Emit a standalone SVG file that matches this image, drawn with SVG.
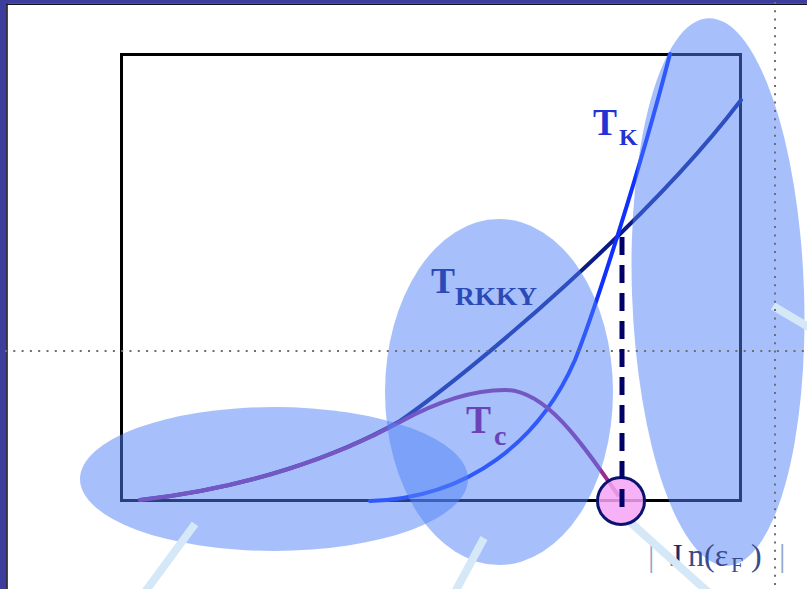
<svg xmlns="http://www.w3.org/2000/svg" width="807" height="589" viewBox="0 0 807 589">
  <style>
    .blob { fill: #4f81f7; fill-opacity: 0.5; }
    .curve { fill: none; stroke-width: 4; stroke-linecap: round; }
    .pale { stroke: #d4e8f8; stroke-width: 8; fill: none; }
    .dots { stroke: #6e6e6e; stroke-width: 2; stroke-dasharray: 2 6.3; fill: none; }
    .lbl { font-family: "Liberation Serif", "Times New Roman", serif; font-weight: bold; }
    .ax { font-family: "Liberation Serif", "Times New Roman", serif; }
  </style>
  <rect width="807" height="589" fill="#ffffff"/>
  <g id="frame">
    <rect x="0" y="0" width="6.5" height="589" fill="#3d3d9d"/>
    <rect x="0" y="0" width="807" height="3.5" fill="#3d3d9d"/>
    <line x1="7" y1="3.5" x2="7" y2="589" stroke="#111" stroke-width="1.5"/>
    <line x1="6.5" y1="4.3" x2="807" y2="4.3" stroke="#111" stroke-width="1.5"/>
  </g>
  <g id="plot-box">
    <rect x="121.5" y="54.5" width="619" height="446" fill="none" stroke="#000" stroke-width="3"/>
  </g>
  <g id="curves">
    <path id="T_RKKY-curve" class="curve" stroke="#0c1c86" d="M140,500 C250,488 340,455 400,421 C480,365 650,220 741,100"/>
    <path id="T_K-curve" class="curve" stroke="#1030ff" d="M370,501 C470,498 540,440 575,360 C595,310 640,170 670,54"/>
    <path id="T_c-curve" class="curve" stroke="#9a2c8e" d="M140,500 C250,488 340,455 400,422 C440,400 475,390 505,390 C545,390 580,440 618,495"/>
  </g>
  <g id="regions">
    <ellipse id="region-left" class="blob" cx="274" cy="479" rx="194" ry="72"/>
    <ellipse id="region-middle" class="blob" cx="499" cy="392" rx="114" ry="173"/>
    <ellipse id="region-right" class="blob" cx="718" cy="292" rx="86" ry="274" transform="rotate(-2 718 292)"/>
  </g>
  <g id="labels">
    <g id="label-TK" class="lbl" fill="#2233d6">
      <text x="593" y="135" font-size="38" textLength="24" lengthAdjust="spacingAndGlyphs">T</text>
      <text x="619" y="145" font-size="24">K</text>
    </g>
    <g id="label-TRKKY" class="lbl" fill="#2c4ab6">
      <text x="431" y="293" font-size="36" textLength="24" lengthAdjust="spacingAndGlyphs">T</text>
      <text x="455" y="305" font-size="26" textLength="82" lengthAdjust="spacingAndGlyphs">RKKY</text>
    </g>
    <g id="label-Tc" class="lbl" fill="#6a44b6">
      <text x="466" y="433" font-size="40" textLength="25" lengthAdjust="spacingAndGlyphs">T</text>
      <text x="494" y="445" font-size="28">c</text>
    </g>
    <g id="label-axis" class="ax" font-size="32">
      <text x="648" y="566" fill="#8fa6c8">|</text>
      <text x="670" y="566" fill="#1c2a6a">J</text>
      <text x="688" y="566" fill="#3b4a8a">n(ε</text>
      <text x="731" y="572" font-size="22" fill="#3b4a8a">F</text>
      <text x="751" y="566" fill="#3b4a8a">)</text>
      <text x="779" y="566" fill="#8fa6c8">|</text>
    </g>
  </g>
  <g id="connectors">
    <line class="pale" x1="195" y1="524" x2="145" y2="592"/>
    <line class="pale" x1="484" y1="538" x2="455" y2="592"/>
    <line class="pale" x1="630" y1="522" x2="708" y2="592"/>
    <line class="pale" x1="773" y1="306" x2="812" y2="329"/>
    <line class="dots" x1="5" y1="351" x2="807" y2="351"/>
    <line class="dots" x1="775" y1="2" x2="775" y2="589"/>
  </g>
  <g id="marker-point">
    <circle cx="621" cy="501" r="23.5" fill="#f6a4f6" fill-opacity="0.85" stroke="#0a1470" stroke-width="3"/>
    <line x1="622" y1="232" x2="622" y2="508" stroke="#000066" stroke-width="5" stroke-dasharray="18 10" stroke-dashoffset="23"/>
  </g>
</svg>
